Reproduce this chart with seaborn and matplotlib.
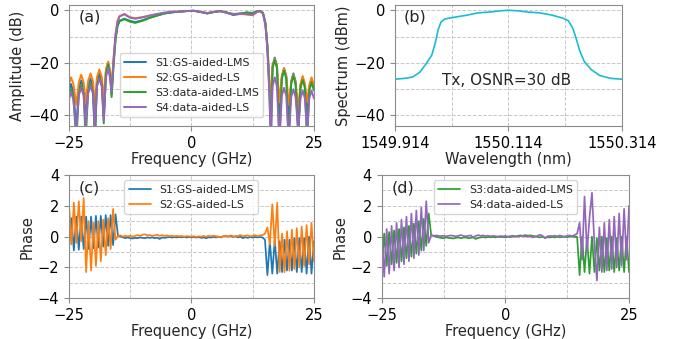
import numpy as np
import pandas as pd
import matplotlib
matplotlib.use("Agg")
import matplotlib.pyplot as plt
import seaborn as sns
from matplotlib.ticker import FixedLocator

# ---- (a) amplitude response of the four schemes ----
freq_amp = [-25.0, -24.6, -24.1, -23.5, -23.0, -22.5, -22.0, -21.6, -21.1, -20.6,
            -20.1, -19.7, -19.3, -18.8, -18.3, -17.9, -17.45, -17.0, -16.6, -16.3,
            -15.9, -15.5, -15.1, -14.7, -13.7, -12.6, -11.5, -10.0, -8.5, -7.0,
            -5.5, -4.0, -2.5, -1.0, 0.5, 2.0, 3.2, 4.5, 5.8, 7.0,
            8.5, 10.0, 11.3, 12.5, 13.3, 14.0, 14.6, 15.1, 15.5, 15.9,
            16.2, 16.55, 17.0, 17.45, 17.95, 18.45, 18.9, 19.35, 19.85, 20.35,
            20.8, 21.25, 21.8, 22.25, 22.7, 23.15, 23.6, 24.05, 24.5, 25.0]

amp_s1 = [-31, -28, -31, -45, -29.7, -26.7, -29.7, -42, -29, -26,
          -29, -48, -27, -24, -27, -40, -23, -20, -24, -32,
          -20, -11, -6, -4, -3.2, -4.0, -4.5, -3.8, -2.8, -2.0,
          -1.2, -0.8, -0.5, -0.3, -0.2, -0.7, -1.2, -0.7, -0.3, -0.8,
          -1.8, -1.4, -0.9, -1.2, -0.5, -0.3, -1.2, -5, -14, -28,
          -42, -21, -18, -21, -40, -25, -22, -25, -42, -27,
          -24, -27, -48, -28.5, -25.5, -28.5, -40, -29, -26, -29]
amp_s2 = [-28, -25.5, -28, -36, -27.5, -24.5, -27.5, -35, -27, -24,
          -27, -37, -25.5, -22.5, -25.5, -34, -22.5, -19.5, -23, -30,
          -18, -9, -4, -2.2, -1.4, -2.6, -3.0, -2.6, -2.0, -1.5,
          -1.0, -0.6, -0.5, -0.3, -0.2, -0.6, -1.0, -0.6, -0.3, -0.8,
          -1.3, -1.4, -1.6, -1.9, -0.8, -0.3, -1.0, -5, -13, -26,
          -36, -21.5, -18.5, -21.5, -35, -25, -22, -25, -36, -27.5,
          -24.5, -27.5, -37, -28, -25, -28, -35, -28.5, -25.5, -28.5]
amp_s3 = [-33, -30, -33, -50, -31.7, -28.7, -31.7, -50, -31, -28,
          -31, -50, -28.5, -25.5, -28.5, -43, -24, -20.5, -25, -33,
          -21, -11, -6, -4.2, -3.4, -4.3, -4.8, -4.0, -2.9, -2.0,
          -1.2, -0.8, -0.5, -0.3, -0.2, -0.7, -1.2, -0.7, -0.3, -0.7,
          -1.6, -1.2, -0.8, -1.0, -0.4, -0.2, -1.0, -5, -14, -30,
          -50, -22, -19, -22, -50, -26, -23, -26, -50, -28,
          -25, -28, -45, -29.5, -26.5, -29.5, -50, -30.5, -27.5, -30.5]
amp_s4 = [-34, -31, -34, -46, -32.4, -29.4, -32.4, -44, -31.7, -28.7,
          -31.7, -45, -29, -26, -29, -42, -25.5, -22, -26, -31,
          -19, -9.5, -4.5, -2.4, -1.5, -2.8, -3.2, -2.7, -2.0, -1.4,
          -0.9, -0.5, -0.6, -0.3, -0.2, -0.7, -1.1, -0.6, -0.4, -0.9,
          -1.5, -1.2, -1.5, -1.7, -0.7, -0.3, -1.2, -6, -15, -32,
          -50, -29, -25.5, -29, -50, -32.5, -29.5, -32.5, -50, -33,
          -30, -33, -46, -33.5, -30.5, -33.5, -46, -33.5, -30.5, -33.5]

# ---- (b) transmitted optical spectrum ----
wavelength = [1549.914, 1549.935, 1549.946, 1549.958, 1549.970, 1549.979, 1549.985,
              1549.990, 1549.995, 1550.002, 1550.020, 1550.040, 1550.060, 1550.085,
              1550.100, 1550.114, 1550.130, 1550.150, 1550.170, 1550.190, 1550.210,
              1550.220, 1550.228, 1550.234, 1550.240, 1550.248, 1550.260, 1550.275,
              1550.295, 1550.314]
spectrum = [-26.2, -25.8, -25.3, -23.5, -20.0, -17.0, -12.5,
            -7.5, -4.5, -3.3, -2.6, -1.9, -1.0, -0.6,
            -0.2, 0.0, -0.2, -0.7, -1.0, -1.8, -3.0,
            -4.0, -7.0, -11.0, -15.5, -19.5, -22.5, -24.8,
            -25.9, -26.2]

# ---- (c), (d) phase responses, 0.5 GHz sampling ----
freq_phase = np.linspace(-25, 25, 101)

# left band edge (-25 .. -15.5), in-band (-15 .. 14), right band edge (14.5 .. 25)
ph_s1 = ([-0.8, 1.2, -0.9, 1.3, -0.85, 1.3, -0.8, 1.3, -0.8, 1.3,
          -0.75, 1.35, -0.7, 1.35, -0.65, 1.4, -0.6, 1.4, -0.55, 1.45]
         + [0.05, 0.0, -0.05, -0.1, -0.05, -0.1, -0.12, -0.08, -0.1, -0.05,
            -0.08, -0.1, -0.05, -0.08, -0.05, -0.1, -0.06, -0.15, -0.05, -0.08,
            -0.05, -0.02, -0.06, -0.03, -0.05, -0.02, -0.04, -0.02, -0.05, -0.03,
            -0.05, -0.02, -0.06, -0.03, -0.08, -0.05, -0.1, -0.04, -0.06, -0.02,
            -0.05, 0.0, -0.05, 0.02, 0.05, 0.0, 0.05, -0.02, 0.03, -0.05,
            0.0, -0.1, -0.03, -0.08, -0.02, -0.06, -0.02, -0.05, -0.03]
         + [-0.05, -0.2, -2.5, -0.3, -2.4, -0.2, -2.4, -0.3, -2.3, -0.2, -2.2,
            -0.2, -2.2, -0.1, -2.3, -0.1, -2.3, -0.1, -2.4, 0.0, -2.4, -0.3])
ph_s2 = ([2.1, -0.5, 2.2, -0.4, 2.3, -0.3, 2.5, -2.3, 1.0, -2.2,
          0.9, -1.9, 1.0, -1.6, 1.1, -1.2, 1.2, -0.8, 1.8, -0.2]
         + [0.05, 0.08, 0.0, 0.05, 0.02, 0.06, 0.0, 0.05, 0.1, 0.05,
            0.12, 0.15, 0.08, 0.1, 0.05, 0.08, 0.12, 0.05, 0.1, 0.05,
            0.08, 0.03, 0.06, 0.02, 0.05, 0.03, 0.04, 0.0, 0.03, 0.02,
            0.0, 0.03, -0.02, 0.02, 0.0, 0.04, 0.0, 0.05, 0.02, 0.06,
            0.03, 0.0, -0.02, 0.02, 0.05, 0.0, 0.08, 0.02, 0.0, 0.05,
            0.1, 0.03, 0.06, 0.08, 0.02, 0.05, 0.1, 0.03, 0.08]
         + [0.1, 0.2, 0.6, -0.5, 2.1, -0.6, 2.2, -2.3, 0.2, -2.3, 0.35,
            -2.2, 0.45, -2.1, 0.55, -2.0, 0.65, -1.9, 0.75, -1.8, 0.9, -1.6])
ph_s3 = ([-2.0, 0.2, -1.9, 0.3, -1.8, 0.4, -1.7, 0.5, -1.6, 0.6,
          -1.4, 0.7, -1.3, 0.85, -1.1, 1.0, -0.9, 1.15, -0.6, 1.5]
         + [0.1, 0.05, 0.0, -0.05, -0.08, -0.1, -0.05, -0.08, -0.1, -0.12,
            -0.08, -0.05, -0.1, -0.06, -0.05, -0.1, -0.08, -0.05, -0.15, -0.08,
            -0.05, -0.03, -0.06, -0.02, -0.04, -0.02, -0.05, 0.0, -0.03, -0.02,
            -0.04, 0.0, -0.03, 0.02, 0.0, 0.05, 0.08, 0.05, 0.1, 0.06,
            0.08, 0.05, 0.02, -0.02, -0.05, 0.0, -0.08, -0.03, -0.05, -0.02,
            -0.05, 0.0, -0.04, -0.02, 0.0, -0.03, 0.02, 0.0, -0.02]
         + [0.0, -2.5, 0.0, -2.3, -0.1, -2.4, 0.0, -2.3, -0.1, -2.2, 0.0,
            -2.3, -0.1, -2.2, 0.0, -2.3, -0.1, -2.2, 0.0, -2.3, 0.0, -2.3])
ph_s4 = ([0.3, -2.6, 0.5, -2.4, 0.7, -2.2, 0.9, -2.0, 1.1, -1.8,
          1.3, -1.6, 1.5, -1.4, 1.7, -1.2, 1.9, -0.9, 2.3, -0.4]
         + [0.1, 0.05, 0.08, 0.05, 0.03, 0.06, 0.02, 0.05, 0.08, 0.05,
            0.02, 0.06, 0.1, 0.05, 0.02, 0.05, 0.08, -0.05, 0.05, 0.1,
            0.05, 0.08, 0.03, 0.06, 0.02, 0.05, 0.03, 0.0, 0.04, 0.02,
            0.05, 0.0, 0.03, 0.06, 0.02, 0.0, 0.03, 0.05, 0.02, 0.0,
            0.03, -0.05, 0.0, 0.05, 0.12, 0.05, -0.1, 0.02, 0.05, 0.03,
            0.06, 0.02, 0.08, 0.03, 0.0, 0.05, 0.08, 0.03, 0.1]
         + [0.2, 0.9, -1.5, 2.6, -1.0, 1.2, 2.85, -0.5, -2.85, 0.6, -2.3,
            0.9, -2.2, 1.1, -2.1, 1.3, -2.0, 1.5, -1.9, 1.8, -1.5, 2.0])

labels = ["S1:GS-aided-LMS", "S2:GS-aided-LS", "S3:data-aided-LMS", "S4:data-aided-LS"]
colors = ["#1f77b4", "#ff7f0e", "#2ca02c", "#9467bd"]

sns.set_style("ticks")
plt.rcParams["font.family"] = ["DejaVu Sans"]
plt.rcParams["axes.edgecolor"] = "#8c8c8c"
plt.rcParams["xtick.color"] = "#8c8c8c"
plt.rcParams["ytick.color"] = "#8c8c8c"
plt.rcParams["xtick.labelcolor"] = "black"
plt.rcParams["ytick.labelcolor"] = "black"

fig = plt.figure(figsize=(6.73, 3.39), dpi=100)
ax_a = fig.add_axes([0.1025, 0.6283, 0.3640, 0.3569])
ax_b = fig.add_axes([0.5869, 0.6283, 0.3369, 0.3569])
ax_c = fig.add_axes([0.1025, 0.1201, 0.3640, 0.3637])
ax_d = fig.add_axes([0.5672, 0.1201, 0.3675, 0.3637])

tick_fs = 10.5
label_fs = 10.5
leg_fs = 7.9


def style(ax):
    ax.grid(which="both", ls="--", color="#c8c8c8", lw=0.7)
    ax.tick_params(labelsize=tick_fs, which="both")
    ax.tick_params(which="minor", length=0)


# (a)
for vals, lab, col in zip([amp_s1, amp_s2, amp_s3, amp_s4], labels, colors):
    sns.lineplot(x=freq_amp, y=vals, ax=ax_a, color=col, lw=1.4, label=lab)
ax_a.set_xlim(-25, 25)
ax_a.set_ylim(-44, 2)
ax_a.set_xticks([-25, 0, 25])
ax_a.xaxis.set_minor_locator(FixedLocator([-12.5, 12.5]))
ax_a.set_yticks([0, -20, -40])
ax_a.yaxis.set_minor_locator(FixedLocator([-10, -30]))
ax_a.set_xlabel("Frequency (GHz)", fontsize=label_fs, labelpad=1)
ax_a.set_ylabel("Amplitude (dB)", fontsize=label_fs, labelpad=2)
ax_a.legend(loc="lower center", bbox_to_anchor=(0.5, 0.03), fontsize=leg_fs,
            frameon=True, handlelength=2.0, labelspacing=0.45)
ax_a.text(0.04, 0.86, "(a)", transform=ax_a.transAxes, fontsize=11.5)
style(ax_a)

# (b)
sns.lineplot(x=wavelength, y=spectrum, ax=ax_b, color="#17becf", lw=1.2)
ax_b.set_xlim(1549.914, 1550.314)
ax_b.set_ylim(-44, 2)
ax_b.set_xticks([1549.914, 1550.114, 1550.314])
ax_b.set_xticklabels(["1549.914", "1550.114", "1550.314"])
ax_b.xaxis.set_minor_locator(FixedLocator([1550.014, 1550.214]))
ax_b.set_yticks([0, -20, -40])
ax_b.yaxis.set_minor_locator(FixedLocator([-10, -30]))
ax_b.set_xlabel("Wavelength (nm)", fontsize=label_fs, labelpad=1)
ax_b.set_ylabel("Spectrum (dBm)", fontsize=label_fs, labelpad=2)
ax_b.text(0.04, 0.86, "(b)", transform=ax_b.transAxes, fontsize=11.5)
ax_b.text(0.49, 0.38, "Tx, OSNR=30 dB", transform=ax_b.transAxes, fontsize=11,
          ha="center", va="center")
style(ax_b)

# (c), (d)
for ax, pair, tag in [(ax_c, (0, 1), "(c)"), (ax_d, (2, 3), "(d)")]:
    series = [ph_s1, ph_s2, ph_s3, ph_s4]
    for k in pair:
        sns.lineplot(x=freq_phase, y=series[k], ax=ax, color=colors[k], lw=1.25,
                     label=labels[k])
    ax.set_xlim(-25, 25)
    ax.set_ylim(-4, 4)
    ax.set_xticks([-25, 0, 25])
    ax.xaxis.set_minor_locator(FixedLocator([-12.5, 12.5]))
    ax.set_yticks([4, 2, 0, -2, -4])
    ax.yaxis.set_minor_locator(FixedLocator([3, 1, -1, -3]))
    ax.set_xlabel("Frequency (GHz)", fontsize=label_fs, labelpad=1)
    ax.set_ylabel("Phase", fontsize=label_fs, labelpad=2)
    ax.legend(loc="upper center", bbox_to_anchor=(0.5, 1.0), fontsize=leg_fs,
              frameon=True, handlelength=2.0, labelspacing=0.45)
    ax.text(0.04, 0.86, tag, transform=ax.transAxes, fontsize=11.5)
    style(ax)

fig.savefig("out.png", dpi=100)
